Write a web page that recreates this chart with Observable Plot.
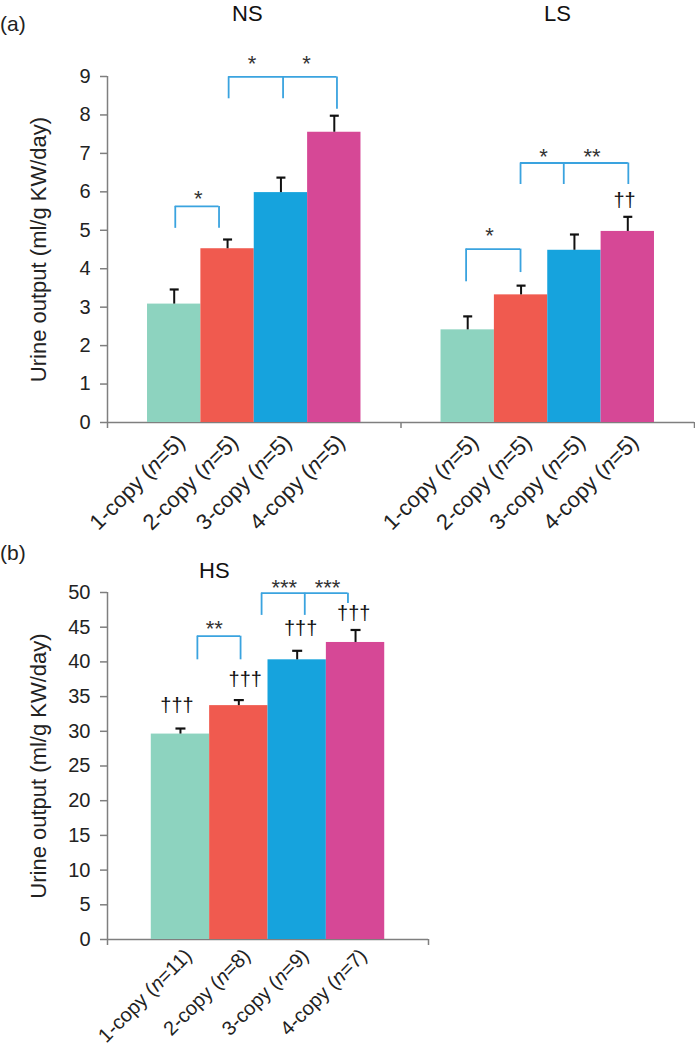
<!DOCTYPE html>
<html><head><meta charset="utf-8">
<script src="https://cdn.jsdelivr.net/npm/d3@7"></script>
<script src="https://cdn.jsdelivr.net/npm/@observablehq/plot@0.6"></script>
<style>
body{margin:0;background:#fff;font-family:"Liberation Sans",Arial,sans-serif;}
#wrap{position:relative;width:695px;height:1050px;overflow:hidden}
.plab{position:absolute;left:0;font-size:21px;line-height:24px;color:#222}
</style></head><body><div id="wrap">
<div id="top" style="position:absolute;left:0;top:0"></div>
<div id="bot" style="position:absolute;left:0;top:540px"></div>
<div class="plab" style="top:12px">(a)</div>
<div class="plab" style="top:541px">(b)</div>
</div>
<script>
// ---- data ----
const copies = ["1-copy", "2-copy", "3-copy", "4-copy"];
const colors = ["#8dd3bf", "#f05a4f", "#16a3dd", "#d64896"];
const topGroups = ["NS", "LS"];
const nsMean = [3.08, 4.52, 5.98, 7.55];
const nsErr = [0.38, 0.24, 0.39, 0.43];
const nsN = [5, 5, 5, 5];
const lsMean = [2.41, 3.32, 4.48, 4.97];
const lsErr = [0.35, 0.24, 0.41, 0.38];
const lsN = [5, 5, 5, 5];
const hsMean = [29.6, 33.7, 40.3, 42.8];
const hsErr = [0.8, 0.8, 1.3, 1.8];
const hsN = [11, 8, 9, 7];
const topTicks = [0, 1, 2, 3, 4, 5, 6, 7, 8, 9];
const botTicks = [0, 5, 10, 15, 20, 25, 30, 35, 40, 45, 50];
const yLabel = "Urine output (ml/g KW/day)";

// significance annotations (x in bar-index units within a group, y in data units)
const nsBrackets = [
  {legs: [0.02, 0.84], lows: [5.05, 5.05], top: 5.62},
  {legs: [1.02, 2.04, 3.05], lows: [8.42, 8.42, 8.15], top: 8.99}
];
const nsMarks = [{x: 0.45, y: 5.95, t: "*"}, {x: 1.46, y: 9.47, t: "*"}, {x: 2.48, y: 9.47, t: "*"}];
const nsDaggers = [];
const lsBrackets = [
  {legs: [-0.03, 0.99], lows: [3.66, 3.90], top: 4.51},
  {legs: [0.99, 1.80, 3.01], lows: [6.19, 6.19, 6.19], top: 6.75}
];
const lsMarks = [{x: 0.41, y: 4.99, t: "*"}, {x: 1.42, y: 7.05, t: "*"}, {x: 2.33, y: 7.05, t: "**"}];
const lsDaggers = [{x: 2.94, y: 5.77, t: "††"}];
const hsBrackets = [
  {legs: [0.29, 1.03], lows: [40.3, 40.3], top: 43.7},
  {legs: [1.39, 2.13, 2.87], lows: [46.7, 46.7, 48.4], top: 49.9}
];
const hsMarks = [{x: 0.58, y: 45.5, t: "**"}, {x: 1.78, y: 51.5, t: "***"}, {x: 2.52, y: 51.5, t: "***"}];
const hsDaggers = [{x: -0.06, y: 33.75, t: "†††"}, {x: 1.11, y: 37.5, t: "†††"}, {x: 2.06, y: 44.8, t: "†††"}, {x: 2.97, y: 47.0, t: "†††"}];
const topTitles = [{g: 0, x: 1.37, y: 10.86, t: "NS"}, {g: 1, x: 1.68, y: 10.86, t: "LS"}];
const botTitles = [{g: 0, x: 0.58, y: 54.3, t: "HS"}];

// ---- helpers ----
const FONT = '"Liberation Sans", Arial, sans-serif';
const AX = "#7f7f7f";
const BR = "#3aa3df";
const pad = 0.75;
const span = copies.length + 2 * pad;

function rowsFor(means, errs, ns, g) {
  return means.map((m, i) => ({x: g * span + i, mean: m, err: errs[i], top: m + errs[i], color: colors[i],
    label: `${copies[i]} (n=${ns[i]})`}));
}
function bracketParts(brackets, g) {
  const h = [], v = [];
  for (const b of brackets) {
    h.push({x1: g * span + b.legs[0], x2: g * span + b.legs[b.legs.length - 1], y: b.top});
    b.legs.forEach((l, j) => v.push({x: g * span + l, y1: b.lows[j], y2: b.top}));
  }
  return {h, v};
}
const offset = (arr, g) => arr.map(d => ({...d, x: g * span + d.x}));
const capSymbol = {draw(ctx, size) { const r = Math.sqrt(size / Math.PI); ctx.moveTo(-r, 0); ctx.lineTo(r, 0); }};

function italicN(svg) {
  const NS = "http://www.w3.org/2000/svg";
  svg.querySelectorAll("g.xlab text").forEach(t => {
    const m = t.textContent.match(/^(.*\()n(=.*)$/);
    if (!m) return;
    t.textContent = "";
    const a = document.createElementNS(NS, "tspan"); a.textContent = m[1];
    const b = document.createElementNS(NS, "tspan"); b.textContent = "n"; b.setAttribute("font-style", "italic");
    const c = document.createElementNS(NS, "tspan"); c.textContent = m[2];
    t.append(a, b, c);
  });
}

function panel({rows, brackets, marks, daggers, titles, ticks, yMax, nGroups, width, height, mt, mb, mr, capR, labDx, labDy, labSize}) {
  const x0 = -0.5 - pad, x1 = nGroups * span - 0.5 - pad;
  const edges = d3.range(nGroups + 1).map(g => x0 + g * span);
  return Plot.plot({
    width, height, marginLeft: 107, marginRight: mr, marginTop: mt, marginBottom: mb,
    style: {fontFamily: FONT, background: "transparent", color: "#222"},
    x: {domain: [x0, x1], axis: null},
    y: {domain: [0, yMax], axis: null},
    marks: [
      Plot.ruleY([0], {stroke: AX, strokeWidth: 1.5}),
      Plot.ruleX([x0], {y1: 0, y2: yMax, stroke: AX, strokeWidth: 1.5}),
      Plot.axisX({ticks: edges, tickSize: 6, tickFormat: () => "", label: null, stroke: AX, strokeWidth: 1.5}),
      Plot.axisY({ticks, tickSize: 7, tickPadding: 10, fontSize: 20, label: null, stroke: AX, strokeWidth: 1.5, fill: "#222"}),
      Plot.text([yLabel], {frameAnchor: "left", rotate: -90, dx: -69, fontSize: 22, fill: "#222", textAnchor: "middle"}),
      Plot.rectY(rows, {x1: d => d.x - 0.5, x2: d => d.x + 0.5, y1: 0, y2: "mean", fill: "color"}),
      Plot.ruleX(rows, {x: "x", y1: "mean", y2: "top", stroke: "#111", strokeWidth: 2}),
      Plot.dot(rows, {x: "x", y: "top", r: capR, symbol: capSymbol, fill: "none", stroke: "#111", strokeWidth: 2.2}),
      Plot.ruleY(brackets.h, {x1: "x1", x2: "x2", y: "y", stroke: BR, strokeWidth: 1.8}),
      Plot.ruleX(brackets.v, {x: "x", y1: "y1", y2: "y2", stroke: BR, strokeWidth: 1.8}),
      Plot.text(marks, {x: "x", y: "y", text: "t", fontSize: 22, dy: 5.5, fill: "#333"}),
      Plot.text(daggers, {x: "x", y: "y", text: "t", fontSize: 20, fill: "#111"}),
      Plot.text(titles, {x: "x", y: "y", text: "t", fontSize: 22, lineAnchor: "top", fill: "#111"}),
      Plot.text(rows, {x: "x", y: 0, text: "label", rotate: -45, textAnchor: "end", fontSize: labSize, dx: labDx, dy: labDy, fill: "#222", className: "xlab"})
    ]
  });
}

// ---- top panel (a) ----
const topRows = [...rowsFor(nsMean, nsErr, nsN, 0), ...rowsFor(lsMean, lsErr, lsN, 1)];
const b0 = bracketParts(nsBrackets, 0), b1 = bracketParts(lsBrackets, 1);
const topSvg = panel({
  rows: topRows,
  brackets: {h: [...b0.h, ...b1.h], v: [...b0.v, ...b1.v]},
  marks: [...offset(nsMarks, 0), ...offset(lsMarks, 1)],
  daggers: [...offset(nsDaggers, 0), ...offset(lsDaggers, 1)],
  titles: topTitles.map(d => ({...d, x: d.g * span + d.x})),
  ticks: topTicks, yMax: 9, nGroups: topGroups.length,
  width: 695, height: 540, mt: 76, mb: 118, mr: 1, capR: 4.5, labDx: 7, labDy: 16, labSize: 22
});
italicN(topSvg);
document.getElementById("top").append(topSvg);

// ---- bottom panel (b) ----
const botRows = rowsFor(hsMean, hsErr, hsN, 0);
const botSvg = panel({
  rows: botRows,
  brackets: bracketParts(hsBrackets, 0),
  marks: offset(hsMarks, 0),
  daggers: offset(hsDaggers, 0),
  titles: botTitles.map(d => ({...d, x: d.g * span + d.x})),
  ticks: botTicks, yMax: 50, nGroups: 1,
  width: 695, height: 510, mt: 52, mb: 111, mr: 267, capR: 5, labDx: 8, labDy: 13, labSize: 20
});
italicN(botSvg);
document.getElementById("bot").append(botSvg);
</script>
</body></html>
